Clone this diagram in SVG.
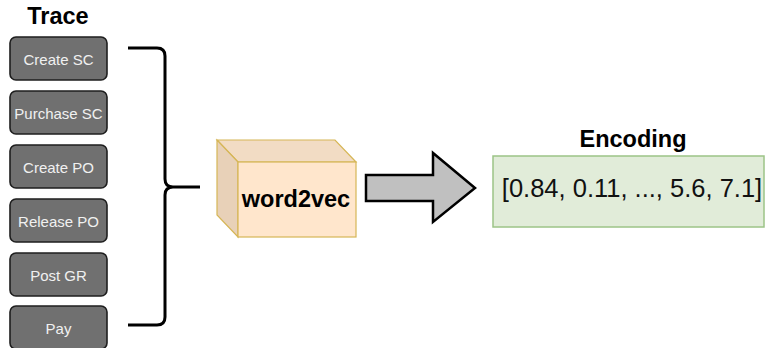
<svg xmlns="http://www.w3.org/2000/svg" width="768" height="348" viewBox="0 0 768 348">
  <style>
    .step rect { fill: #707070; stroke: #1e1e1e; stroke-width: 1.6; }
    .step text { fill: #f0f0f0; font-family: "Liberation Sans", Arial, sans-serif; font-size: 15px; text-anchor: middle; }
    .title { fill: #000; font-family: "Liberation Sans", Arial, sans-serif; font-weight: bold; font-size: 23.5px; text-anchor: middle; }
    .brace { fill: none; stroke: #000; stroke-width: 3; stroke-linejoin: round; }
  </style>

  <text class="title" x="58" y="24">Trace</text>

  <g id="step-create-sc" class="step">
    <rect x="10" y="37" width="97" height="43" rx="6"/>
    <text x="58.5" y="64.5">Create SC</text>
  </g>
  <g id="step-purchase-sc" class="step">
    <rect x="10" y="91" width="97" height="43" rx="6"/>
    <text x="58.5" y="118.5">Purchase SC</text>
  </g>
  <g id="step-create-po" class="step">
    <rect x="10" y="145" width="97" height="43" rx="6"/>
    <text x="58.5" y="172.5">Create PO</text>
  </g>
  <g id="step-release-po" class="step">
    <rect x="10" y="199" width="97" height="43" rx="6"/>
    <text x="58.5" y="226.5">Release PO</text>
  </g>
  <g id="step-post-gr" class="step">
    <rect x="10" y="253" width="97" height="43" rx="6"/>
    <text x="58.5" y="280.5">Post GR</text>
  </g>
  <g id="step-pay" class="step">
    <rect x="10" y="306" width="97" height="43" rx="6"/>
    <text x="58.5" y="333.5">Pay</text>
  </g>

  <g id="connectors">
    <!-- curly brace gathering the trace -->
    <path class="brace" d="M128 48 H157 Q165 48 165 56 V179 Q165 187 173 187 H200 M173 187 Q165 187 165 195 V317 Q165 325 157 325 H128"/>
    <!-- block arrow into the encoding -->
    <path d="M366 175 H433 V153 L475 188 L433 222 V201 H366 Z" fill="#c0c0c0" stroke="#000" stroke-width="2.5" stroke-linejoin="miter"/>
  </g>

  <g id="word2vec">
    <path d="M238 162 L217 140 H335 L356 162 Z" fill="#f2dcc4" stroke="#d6b656" stroke-width="1.2"/>
    <path d="M217 140 V215 L238 237 V162 Z" fill="#e8d1b8" stroke="#d6b656" stroke-width="1.2"/>
    <rect x="238" y="162" width="118" height="75" fill="#ffe6cc" stroke="#d6b656" stroke-width="1.2"/>
    <text x="296" y="207" class="title">word2vec</text>
  </g>

  <g id="encoding">
    <text class="title" x="633" y="147">Encoding</text>
    <rect x="493" y="156" width="271" height="71" fill="#e1ecd9" stroke="#9cc487" stroke-width="1.5"/>
    <text x="632" y="197" fill="#111" font-family="Liberation Sans, Arial, sans-serif" font-size="25.5" text-anchor="middle">[0.84, 0.11, ..., 5.6, 7.1]</text>
  </g>
</svg>
